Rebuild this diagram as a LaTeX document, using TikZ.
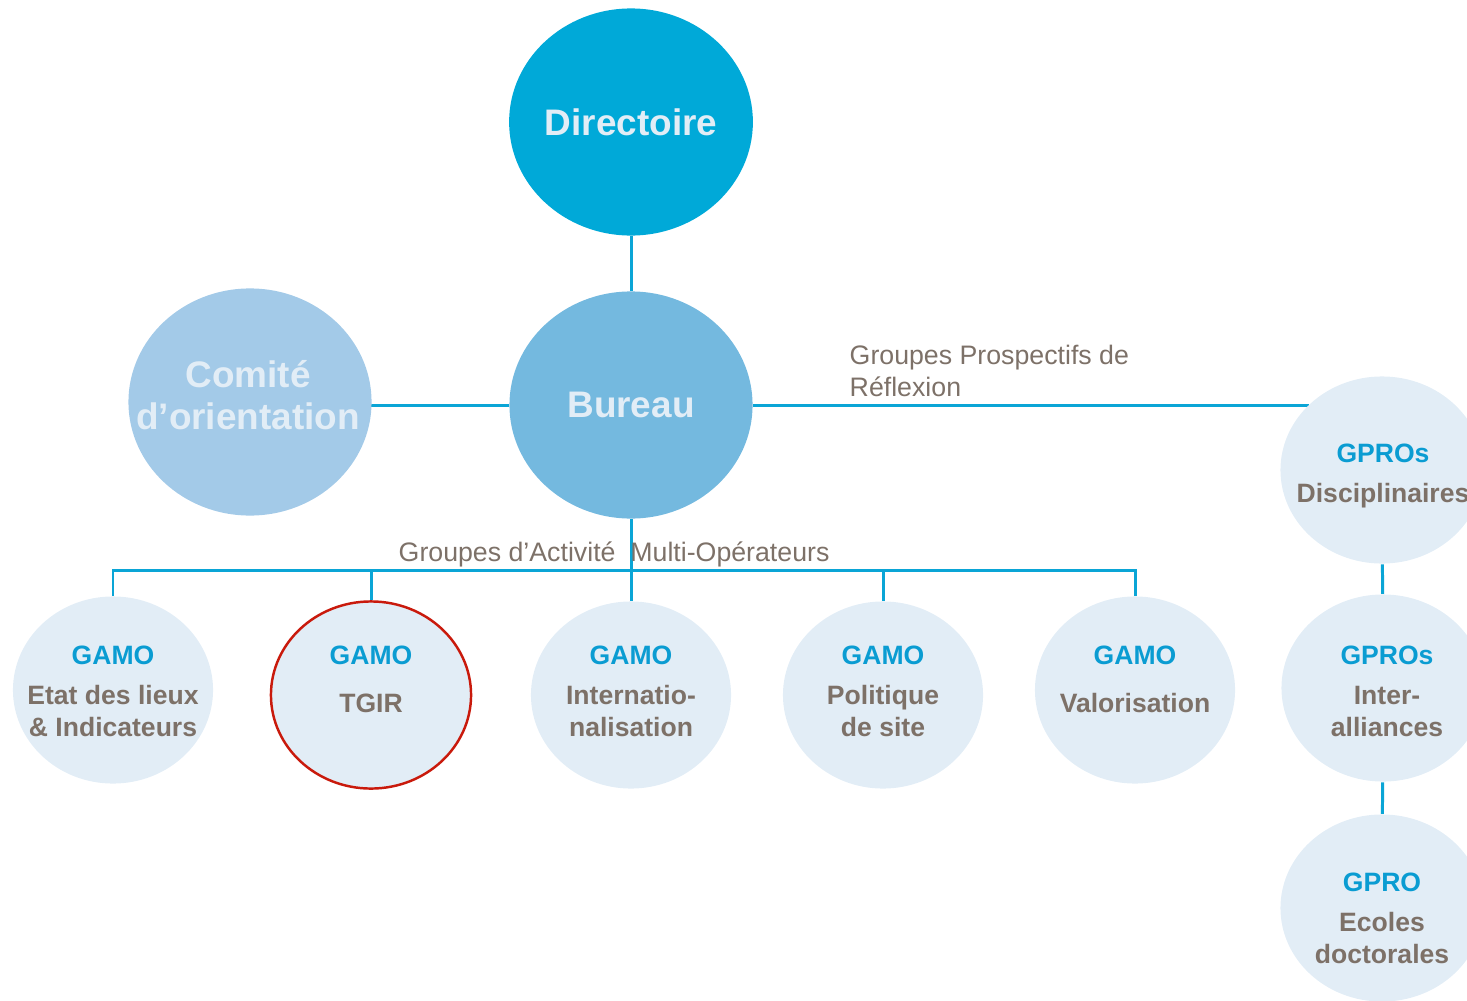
\documentclass[tikz,border=0pt]{standalone}
\usepackage{fontspec}
\setmainfont{Liberation Sans}
\usepackage{xcolor}
\usetikzlibrary{shapes.geometric}
\usetikzlibrary{backgrounds}
\definecolor{dirblue}{HTML}{00A9D8}
\definecolor{bureaublue}{HTML}{74B9DF}
\definecolor{comiteblue}{HTML}{A3CAE8}
\definecolor{paleblue}{HTML}{E2EDF6}
\definecolor{lineblue}{HTML}{0AA5D6}
\definecolor{gamoblue}{HTML}{0A9CD2}
\definecolor{taupe}{HTML}{7D7168}
\definecolor{tgirred}{HTML}{C91A0C}

\begin{document}
\begin{tikzpicture}[x=0.01cm,y=-0.01cm]
\tikzstyle{big} =[ellipse,minimum width=2.43cm,minimum height=2.27cm,inner sep=0pt,align=center,text=paleblue,font=\fontsize{10.5}{12}\selectfont\bfseries]
\tikzstyle{bigtext} =[inner sep=0pt,align=center,text=paleblue,font=\fontsize{10.5}{12}\selectfont\bfseries]
\tikzstyle{gamo} =[ellipse,fill=paleblue,minimum width=2cm,minimum height=1.87cm,inner sep=0pt]
\tikzstyle{gtext} =[anchor=north,inner sep=0pt,align=center,text=taupe,font=\fontsize{7.55}{9.1}\selectfont\bfseries]
\tikzstyle{legend} =[inner sep=0pt,align=left,text=taupe,font=\fontsize{7.6}{9.1}\selectfont]
\tikzstyle{link} =[draw=lineblue,line width=0.85pt]
\newcommand{\gtitle}[2][2.3pt]{\textcolor{gamoblue}{#2}\\[#1]}
\useasboundingbox (0,0) rectangle (1467,1000);
\clip (0,0) rectangle (1467,1000);

\node[big,fill=dirblue](dir) at (631,122){Directoire};
\node[big,fill=bureaublue](bureau) at (631,405){Bureau};
\node[big,fill=comiteblue](comite) at (250,402){};
\node[bigtext](comitetxt) at (248,395){Comité\\d’orientation};

\node[gamo](g1) at (113,690){};
\node[gamo,draw=tgirred,line width=0.7pt](g2) at (371,695){};
\node[gamo](g3) at (631,695){};
\node[gamo](g4) at (883,695){};
\node[gamo](g5) at (1135,690){};
\node[gamo,minimum width=2.03cm](gp1) at (1382,470){};
\node[gamo,minimum width=2.03cm](gp2) at (1383,688){};
\node[gamo,minimum width=2.03cm](gp3) at (1382,908){};

\node[gtext](g1txt) at (113,645.5){\gtitle{GAMO}Etat des lieux\\\& Indicateurs};
\node[gtext](g2txt) at (371,645.5){\gtitle[4.6pt]{GAMO}TGIR};
\node[gtext](g3txt) at (631,645.5){\gtitle{GAMO}Internatio-\\nalisation};
\node[gtext](g4txt) at (883,645.5){\gtitle{GAMO}Politique\\de site};
\node[gtext](g5txt) at (1135,645.5){\gtitle[4.6pt]{GAMO}Valorisation};
\node[gtext](gp1txt) at (1383,443.5){\gtitle{GPROs}Disciplinaires};
\node[gtext](gp2txt) at (1387,645.5){\gtitle{GPROs}Inter-\\alliances};
\node[gtext](gp3txt) at (1382,872.5){\gtitle{GPRO}Ecoles\\doctorales};

\node[legend,anchor=base west](gamolbl) at (398,561){Groupes d’Activité\ \ Multi-Opérateurs};
\node[legend,anchor=north west](gprolbl) at (849,344){Groupes Prospectifs de\\Réflexion};

\coordinate (bus) at (631,570);
\begin{scope}[on background layer]
\draw[link] (dir) to (bureau);
\draw[link] (comite.center |- bureau.west) to (bureau.west);
\draw[link] (bureau.east) to (bureau.east -| gp1.138);
\draw[link] (bureau) to (g3);
\draw[link] (g1.north) |- (bus) -| (g5.north);
\draw[link] (g2.north) to (g2.north |- bus);
\draw[link] (g4.north) to (g4.north |- bus);
\draw[link] (gp1) to (gp2);
\draw[link] (gp2) to (gp3);
\end{scope}
\end{tikzpicture}
\end{document}
